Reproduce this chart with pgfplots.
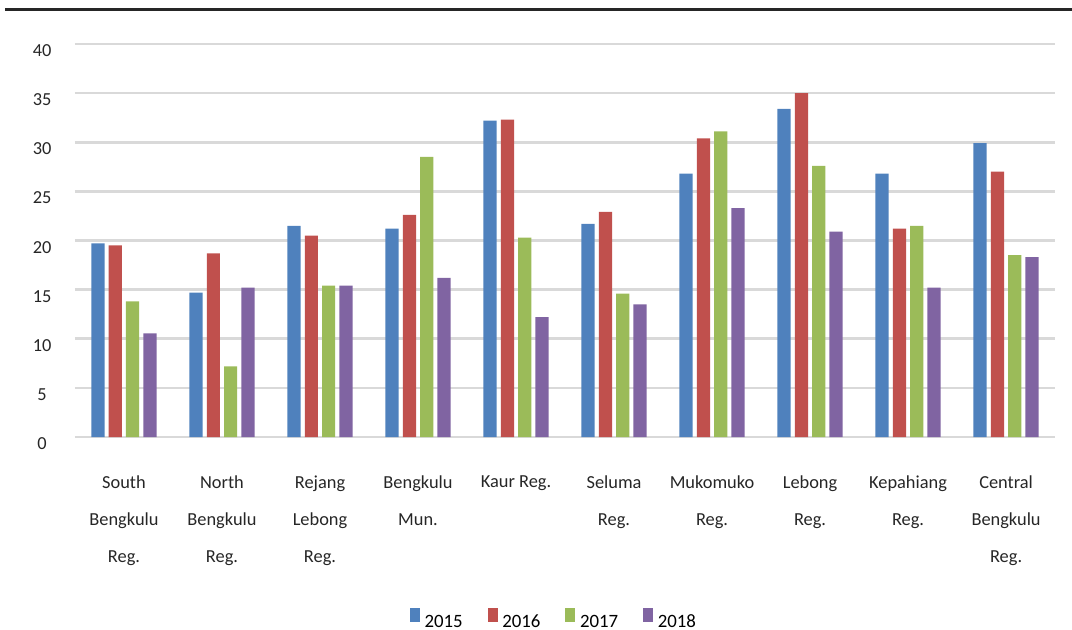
\documentclass[border=0pt]{standalone}
\usepackage{fontspec}
\setmainfont{Carlito}
\usepackage{pgfplots}
\pgfplotsset{compat=1.18}
\definecolor{cA}{HTML}{4F81BD}
\definecolor{cB}{HTML}{C0504D}
\definecolor{cC}{HTML}{9BBB59}
\definecolor{cD}{HTML}{8064A2}
\definecolor{gridgray}{HTML}{D9D9D9}
\begin{document}
\begin{tikzpicture}
\path[use as bounding box] (-1.119,-2.866) rectangle (14.880,6.522);
\fill[black!85] (-1.05,6.355) rectangle (14.88,6.40);
\begin{axis}[
  at={(0,0)}, anchor=south west,
  scale only axis, width=14.627cm, height=5.866cm,
  xmin=-0.5, xmax=9.5, ymin=0, ymax=40,
  axis line style={draw=none},
  ytick={0,5,...,40},
  xtick={0,...,9},
  xticklabels={{South\\Bengkulu\\Reg.},{North\\Bengkulu\\Reg.},{Rejang\\Lebong\\Reg.},{Bengkulu\\Mun.},{Kaur Reg.},{Seluma\\Reg.},{Mukomuko\\Reg.},{Lebong\\Reg.},{Kepahiang\\Reg.},{Central\\Bengkulu\\Reg.}},
  ymajorgrids=true, xmajorgrids=false,
  y grid style={draw=gridgray, line width=1.1pt},
  major tick length=0pt,
  every tick label/.append style={font=\fontsize{7.8}{15.7}\selectfont, text=black!85},
  yticklabel style={anchor=center, xshift=-0.49cm, yshift=-0.1cm},
  xticklabel style={align=center, anchor=north, yshift=-0.45cm},
  /pgf/number format/assume math mode=true,
  clip=false,
  legend columns=4,
  legend style={at={(0.49,-0.47)}, anchor=center, draw=none, fill=none,
    font=\fontsize{8}{9}\selectfont,
    /tikz/every even column/.append style={column sep=0.3cm}},
  legend image code/.code={\fill[#1] (0,0.02cm) rectangle (0.15cm,0.23cm);},
  bar width=0.135,
]
\addplot[ybar, fill=cA, draw=none, bar shift=-0.265] coordinates {(0,19.7) (1,14.7) (2,21.5) (3,21.2) (4,32.2) (5,21.7) (6,26.8) (7,33.4) (8,26.8) (9,29.9)};
\addplot[ybar, fill=cB, draw=none, bar shift=-0.088] coordinates {(0,19.5) (1,18.7) (2,20.5) (3,22.6) (4,32.3) (5,22.9) (6,30.4) (7,35.0) (8,21.2) (9,27.0)};
\addplot[ybar, fill=cC, draw=none, bar shift=0.088] coordinates {(0,13.8) (1,7.2) (2,15.4) (3,28.5) (4,20.3) (5,14.6) (6,31.1) (7,27.6) (8,21.5) (9,18.5)};
\addplot[ybar, fill=cD, draw=none, bar shift=0.265] coordinates {(0,10.55) (1,15.2) (2,15.4) (3,16.2) (4,12.2) (5,13.5) (6,23.3) (7,20.9) (8,15.2) (9,18.3)};
\legend{2015,2016,2017,2018}
\end{axis}
\end{tikzpicture}
\end{document}
